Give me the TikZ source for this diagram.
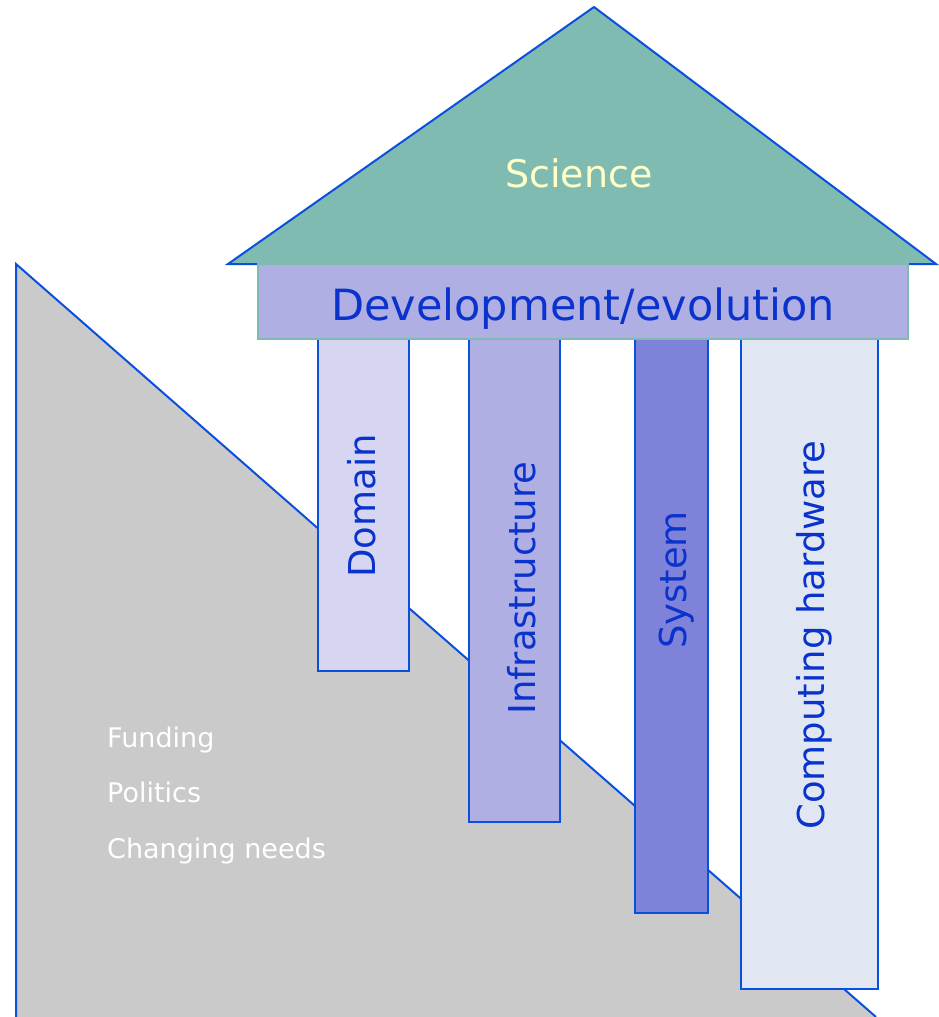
\documentclass[tikz,border=0pt]{standalone}
\usepackage{fontspec}
\setmainfont{DejaVu Sans}
\definecolor{grayfill}{HTML}{CACACA}
\definecolor{roof}{HTML}{80BBB2}
\definecolor{devfill}{HTML}{AFAFE4}
\definecolor{domfill}{HTML}{D6D6F2}
\definecolor{infrafill}{HTML}{AFAFE4}
\definecolor{sysfill}{HTML}{7F82D9}
\definecolor{hwfill}{HTML}{E1E7F2}
\definecolor{edgeblue}{HTML}{0A50DC}
\definecolor{txtblue}{HTML}{0A32CC}
\definecolor{scitxt}{HTML}{FFFFC8}
\begin{document}
\begin{tikzpicture}[x=1pt,y=-1pt,
  edge/.style={draw=edgeblue,line width=2pt,line join=miter},
  pillar/.style={edge},
  vlabel/.style={rotate=90,anchor=base,text=txtblue,font=\fontsize{37}{40}\selectfont,inner sep=0pt},
  sidetext/.style={anchor=base west,text=white,font=\fontsize{27}{30}\selectfont,inner sep=0pt}]
\useasboundingbox (0,0) rectangle (938,1017);
% grey ground
\fill[grayfill] (16,264) -- (16,1017) -- (876,1017) -- cycle;
\draw[edge] (16,1017) -- (16,264) -- (876,1017);
% pillars
\filldraw[pillar,fill=domfill] (318,339) rectangle (409,671);
\filldraw[pillar,fill=infrafill] (469,339) rectangle (560,822);
\filldraw[pillar,fill=sysfill] (635,339) rectangle (708,913);
\filldraw[pillar,fill=hwfill] (741,339) rectangle (878,989);
% roof
\filldraw[edge,fill=roof] (594,7) -- (936,264) -- (228,264) -- cycle;
% beam
\filldraw[fill=devfill,draw=roof,line width=2.5pt] (258,264) rectangle (908,339);
% texts
\node[anchor=base,text=scitxt,font=\fontsize{38}{42}\selectfont,inner sep=0pt] (sci) at (579,187) {Science};
\node[anchor=base,text=txtblue,font=\fontsize{43}{46}\selectfont,inner sep=0pt] (dev) at (583,320) {Development/evolution};
\node[vlabel] (dom) at (375,506) {Domain};
\node[vlabel] (inf) at (535,588) {Infrastructure};
\node[vlabel] (sys) at (686,580) {System};
\node[vlabel] (hw) at (824,635) {Computing hardware};
\node[sidetext] (f1) at (107,747) {Funding};
\node[sidetext] (f2) at (107,802) {Politics};
\node[sidetext] (f3) at (107,858) {Changing needs};
\end{tikzpicture}
\end{document}
